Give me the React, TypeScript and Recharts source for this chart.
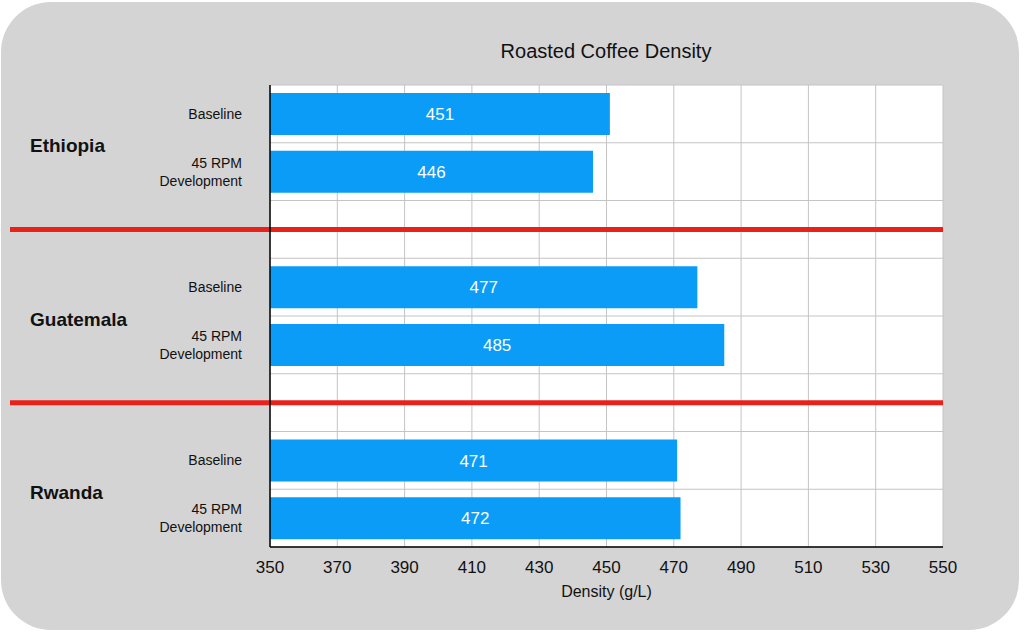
import { BarChart, Bar, XAxis, YAxis, CartesianGrid, ReferenceLine, LabelList } from "recharts";

const rows = ["eth-b", "eth-d", "gap1", "gua-b", "gua-d", "gap2", "rwa-b", "rwa-d"];
const rowLabels = ["Baseline", "45 RPM|Development", "", "Baseline", "45 RPM|Development", "", "Baseline", "45 RPM|Development"];
const groups: Record<string, string> = { "eth-b": "Ethiopia", "gua-b": "Guatemala", "rwa-b": "Rwanda" };
const density = [451, 446, null, 477, 485, null, 471, 472];
const xTicks = [350, 370, 390, 410, 430, 450, 470, 490, 510, 530, 550];

const data = rows.map((r, i) => ({ row: r, density: density[i] }));
const FONT = "Helvetica, Arial, 'Liberation Sans', sans-serif";

function RowTick(props: any) {
  const { x, y, payload } = props;
  const i = rows.indexOf(payload.value);
  const lines = (rowLabels[i] || "").split("|").filter(Boolean);
  const group = groups[payload.value];
  return (
    <g>
      {lines.map((l, k) => (
        <text key={k} x={x - 20} y={y + (k - (lines.length - 1) / 2) * 18} textAnchor="end" dominantBaseline="central" fontSize={14} fill="#111" fontFamily={FONT}>{l}</text>
      ))}
      {group && (
        <text x={30} y={y + 32} dominantBaseline="central" fontSize={19} fontWeight="bold" fill="#111" fontFamily={FONT}>{group}</text>
      )}
    </g>
  );
}

const redLine = (p: any) => (
  <line x1={10} x2={p.x2 ?? 943} y1={p.y1} y2={p.y2} stroke="#e8221b" strokeWidth={5} />
);

export default function App() {
  return (
    <div style={{ position: "absolute", left: 0, top: 0, width: 1024, height: 632 }}>
      <div style={{ position: "absolute", left: 1, top: 2, width: 1018, height: 628, borderRadius: 50, background: "#d4d4d4" }} />
      <div style={{ position: "absolute", left: 0, top: 0 }}>
        <BarChart width={1024} height={632} data={data} layout="vertical" barCategoryGap={8} margin={{ top: 85, right: 81, bottom: 25, left: 20 }}>
          <text x={606} y={51} textAnchor="middle" dominantBaseline="central" fontSize={20} fill="#111" fontFamily={FONT}>Roasted Coffee Density</text>
          <CartesianGrid
            fill="#ffffff"
            stroke="#c4c4c4"
            horizontalCoordinatesGenerator={({ offset }: any) =>
              rows.map((_, i) => offset.top + (offset.height * i) / rows.length).concat(offset.top + offset.height)
            }
          />
          <XAxis
            type="number"
            domain={[350, 550]}
            ticks={xTicks}
            allowDataOverflow
            height={60}
            tickLine={false}
            axisLine={{ stroke: "#000", strokeWidth: 1.5 }}
            tick={{ fontSize: 17, fill: "#111", fontFamily: FONT }}
            tickMargin={8}
            label={{ value: "Density (g/L)", position: "insideBottom", offset: 10, fontSize: 16, fill: "#111", fontFamily: FONT }}
          />
          <YAxis type="category" dataKey="row" width={250} tickLine={false} axisLine={{ stroke: "#000", strokeWidth: 1.5 }} tick={<RowTick />} />
          <Bar dataKey="density" fill="#0a9cf6" barSize={42} isAnimationActive={false}>
            <LabelList dataKey="density" position="center" fill="#fff" fontSize={17} fontFamily={FONT} />
          </Bar>
          <ReferenceLine y="gap1" shape={redLine} />
          <ReferenceLine y="gap2" shape={redLine} />
        </BarChart>
      </div>
    </div>
  );
}
